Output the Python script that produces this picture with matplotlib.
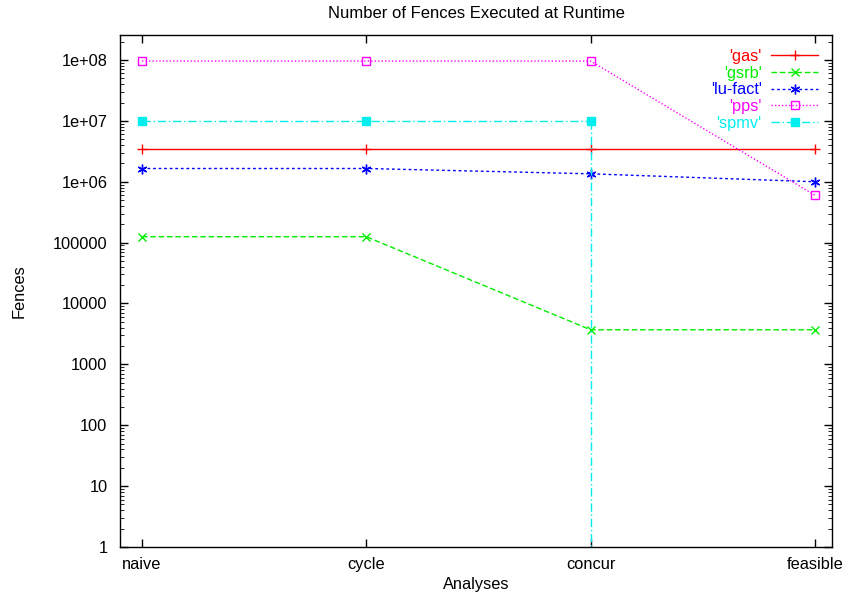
import numpy as np
import matplotlib.pyplot as plt
from matplotlib.ticker import LogLocator, FixedLocator, NullFormatter

plt.rcParams['font.family'] = ['Liberation Sans', 'DejaVu Sans']
plt.rcParams['font.size'] = 11.8

# Data
analyses = ['naive', 'cycle', 'concur', 'feasible']
gas = [3.5e6, 3.5e6, 3.5e6, 3.5e6]
gsrb = [1.25e5, 1.25e5, 3.7e3, 3.7e3]
lu_fact = [1.65e6, 1.65e6, 1.35e6, 1.0e6]
pps = [9.6e7, 9.6e7, 9.6e7, 6.0e5]
spmv = [9.8e6, 9.8e6, 9.8e6, 0]

series = [
    ("'gas'", gas, dict(color='#ff0000', ls='-', marker='+', ms=7)),
    ("'gsrb'", gsrb, dict(color='#00ee00', ls=(0, (4, 2)), marker='x', ms=5.5)),
    ("'lu-fact'", lu_fact, dict(color='#0000ff', ls=(0, (2, 2)), marker=(6, 2, 0), ms=7)),
    ("'pps'", pps, dict(color='#ff00ff', ls=(0, (1, 1.5)), marker='s', ms=5.5,
                        mfc='none', mew=1)),
    ("'spmv'", spmv, dict(color='#00eeee', ls=(0, (6, 2, 1, 2)), marker='s', ms=5.5)),
]

fig = plt.figure(figsize=(8.49, 6.03), dpi=100)
ax = fig.add_axes([0.1413, 0.0929, 0.8387, 0.849])
x = np.arange(len(analyses))
ylo = 1

for name, vals, st in series:
    v = np.array(vals, dtype=float)
    ok = v > 0
    ax.plot(x[ok], v[ok], lw=1, label=name, **st)
    # a zero value on the log scale drops straight to the bottom
    for i in np.where(~ok)[0]:
        if i > 0 and ok[i - 1]:
            ax.plot([x[i - 1], x[i - 1]], [v[i - 1], ylo], lw=1,
                    color=st['color'], ls=st['ls'])

ax.set_yscale('log')
ax.set_ylim(ylo, 10 ** 8.41)
ax.set_xlim(-0.098, 3.076)
ax.set_xticks(x)
ax.set_xticklabels(analyses)
ax.yaxis.set_major_locator(FixedLocator([10 ** k for k in range(9)]))
ax.set_yticklabels(['1', '10', '100', '1000', '10000', '100000',
                    '1e+06', '1e+07', '1e+08'])
ax.yaxis.set_minor_locator(LogLocator(base=10, subs=np.arange(2, 10), numticks=20))
ax.yaxis.set_minor_formatter(NullFormatter())
ax.tick_params(direction='in', top=True, right=True, length=6, width=1)
ax.tick_params(axis='y', pad=9)
ax.tick_params(axis='x', pad=7)
ax.tick_params(which='minor', direction='in', right=True, length=3)
for s in ax.spines.values():
    s.set_linewidth(1)

ax.set_title('Number of Fences Executed at Runtime', fontsize=12, pad=12)
ax.set_xlabel('Analyses', labelpad=4)
ax.set_ylabel('Fences', labelpad=19)

leg = ax.legend(loc='upper right', frameon=False, markerfirst=False,
                labelcolor='linecolor', handlelength=2.85, fontsize=11.8,
                labelspacing=0.1, borderaxespad=0.5, borderpad=0.35,
                handletextpad=0.6)

fig.savefig('out.png', dpi=100)
